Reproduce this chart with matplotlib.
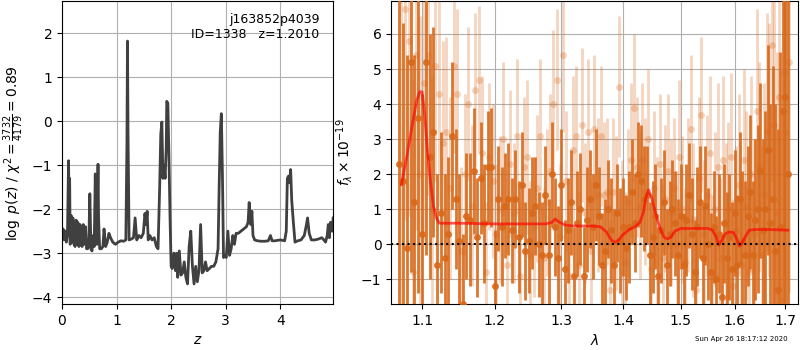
import matplotlib
matplotlib.use("Agg")
import matplotlib.pyplot as plt
import numpy as np
from matplotlib.ticker import FixedLocator, FixedFormatter, NullLocator

# --- redshift probability, log p(z)
z_grid = [0.00, 0.02, 0.04, 0.06, 0.08, 0.10, 0.11, 0.12, 0.13, 0.14,
          0.15, 0.17, 0.19, 0.20, 0.22, 0.24, 0.26, 0.27, 0.29, 0.31,
          0.33, 0.35, 0.37, 0.39, 0.41, 0.43, 0.45, 0.47, 0.49, 0.51,
          0.53, 0.55, 0.57, 0.59, 0.61, 0.62, 0.64, 0.66, 0.67, 0.69,
          0.72, 0.75, 0.77, 0.80, 0.83, 0.86, 0.89, 0.93, 0.98, 1.03,
          1.08, 1.13, 1.17, 1.19, 1.20, 1.21, 1.23, 1.27, 1.31, 1.34,
          1.37, 1.41, 1.45, 1.49, 1.52, 1.54, 1.56, 1.58, 1.61, 1.65,
          1.69, 1.73, 1.76, 1.79, 1.81, 1.83, 1.85, 1.87, 1.89, 1.91,
          1.92, 1.94, 1.96, 1.98, 2.00, 2.02, 2.05, 2.08, 2.10, 2.12,
          2.15, 2.18, 2.21, 2.24, 2.27, 2.30, 2.33, 2.36, 2.39, 2.42,
          2.45, 2.48, 2.51, 2.54, 2.57, 2.60, 2.63, 2.66, 2.70, 2.74,
          2.78, 2.82, 2.86, 2.88, 2.90, 2.92, 2.94, 2.96, 2.98, 3.01,
          3.04, 3.07, 3.10, 3.13, 3.16, 3.19, 3.23, 3.28, 3.33, 3.38,
          3.41, 3.43, 3.46, 3.48, 3.50, 3.53, 3.58, 3.65, 3.72, 3.78,
          3.82, 3.85, 3.90, 4.00, 4.08, 4.11, 4.13, 4.15, 4.17, 4.19,
          4.21, 4.24, 4.27, 4.32, 4.38, 4.44, 4.48, 4.50, 4.53, 4.57,
          4.63, 4.70, 4.76, 4.80, 4.83, 4.86, 4.88, 4.90, 4.92, 4.95,
          4.97]
logpz = [-2.65, -2.45, -2.70, -2.50, -2.75, -2.60, -1.80, -0.90, -2.10, -1.30,
         -2.80, -2.15, -2.75, -2.20, -2.80, -2.85, -2.25, -2.80, -2.30, -2.85,
         -2.35, -2.80, -2.85, -2.35, -2.80, -2.40, -2.90, -2.90, -2.85, -1.65,
         -2.90, -2.95, -2.60, -2.85, -1.20, -2.40, -2.80, -0.98, -2.20, -2.90,
         -2.90, -2.85, -2.45, -2.85, -2.75, -2.55, -2.65, -2.75, -2.80, -2.75,
         -2.72, -2.73, -2.70, -0.50, 1.82, -0.30, -2.70, -2.68, -2.65, -2.20,
         -2.70, -2.60, -2.65, -2.55, -2.10, -2.35, -2.05, -2.70, -2.60, -2.70,
         -2.65, -2.85, -2.90, -1.50, -0.30, -0.02, -1.30, -1.00, -1.30, -0.60,
         0.45, 0.40, -0.80, -2.20, -3.30, -3.35, -3.00, -3.40, -3.00, -3.55,
         -2.95, -3.50, -3.45, -3.20, -3.55, -3.70, -2.85, -2.50, -3.30, -3.70,
         -3.30, -3.65, -3.40, -2.35, -3.45, -3.40, -3.20, -3.40, -3.35, -3.30,
         -3.30, -3.20, -2.90, -1.50, -0.25, 0.17, -1.20, -3.10, -3.05, -3.10,
         -2.50, -3.05, -2.90, -2.60, -2.80, -2.55, -2.55, -2.50, -2.45, -2.40,
         -2.30, -1.85, -2.35, -2.05, -2.60, -2.70, -2.72, -2.73, -2.73, -2.72,
         -2.60, -2.72, -2.72, -2.70, -2.72, -2.50, -1.30, -1.25, -1.40, -1.10,
         -1.80, -2.30, -2.75, -2.72, -2.70, -2.60, -2.35, -2.20, -2.55, -2.70,
         -2.70, -2.68, -2.65, -2.70, -2.75, -2.60, -2.35, -2.65, -2.30, -2.50,
         -2.20]

# --- spectrum, beam 1 (dark), pixel grid starts at 1.070 um, 0.005 um/pix
flux_dark = [2.3, 1.8, -0.1, 5.2, 1.2, 3.6, 0.3, 5.2, 2.5, 3.2,
             -0.6, 0.9, -0.4, 0.3, 3.1, 1.3, 0.1, -1.7, 0.8, 0.7,
             2.1, 0.2, 1.9, 0.6, 2.2, 2.2, -1.2, 1.3, 0.5, 1.1,
             1.3, 0.4, 1.3, 0.2, 1.7, -0.2, 0.1, 0.9, 1.1, 0.0,
             -0.3, 1.4, -0.3, 2.0, 0.5, -0.4, 1.7, -0.7, 0.4, 1.2,
             -0.9, 0.6, 1.0, -0.9, 0.7, 1.3, 0.5, 1.7, 0.8, -0.6,
             -0.2, 1.0, 0.4, -0.6, 0.9, 0.1, 0.5, -0.1, 0.5, 1.5,
             0.6, 2.0, 1.8, 1.3, 1.4, -0.3, 0.2, 0.8, -0.9, 0.4,
             1.2, -0.6, 0.3, 1.0, 0.6, -0.3, 0.8, -0.6, 0.7, 1.4,
             0.3, -0.8, 0.5, 1.2, -0.4, 1.1, 0.0, -0.8, 0.5, -1.0,
             0.3, -1.5, 0.6, -0.4, 0.2, -0.7, 0.9, -0.6, 1.3, 0.1,
             -0.3, 0.8, 1.5, -0.3, 0.7, 1.0, 2.1, 0.4, 1.0, 2.7,
             0.6, 1.3, -0.2, -1.3, 0.5, 3.8, 4.2, 2.0]
err_dark = [5.0, 4.5, 5.5, 6.0, 4.2, 5.0, 4.0, 5.5, 3.5, 3.0,
            2.6, 2.3, 2.4, 2.2, 2.1, 2.0, 1.9, 2.0, 1.8, 1.9,
            1.8, 1.7, 1.6, 1.7, 1.6, 1.7, 1.6, 1.5, 1.7, 1.5,
            1.6, 1.5, 1.4, 1.6, 1.5, 1.4, 1.5, 1.6, 1.4, 1.5,
            1.5, 1.4, 1.6, 1.5, 1.4, 1.5, 1.6, 1.4, 1.5, 1.5,
            1.4, 1.5, 1.6, 1.4, 1.5, 1.4, 1.5, 1.6, 1.4, 1.5,
            1.5, 1.4, 1.5, 1.6, 1.4, 1.5, 1.4, 1.5, 1.6, 1.5,
            1.4, 1.5, 1.6, 1.5, 1.4, 1.5, 1.6, 1.5, 1.4, 1.5,
            1.5, 1.6, 1.5, 1.4, 1.5, 1.6, 1.5, 1.5, 1.6, 1.5,
            1.6, 1.5, 1.7, 1.6, 1.5, 1.7, 1.6, 1.7, 1.6, 1.8,
            1.7, 1.8, 1.7, 1.9, 1.8, 1.9, 1.8, 2.0, 1.9, 2.0,
            2.1, 2.0, 2.2, 2.1, 2.3, 2.4, 2.5, 2.6, 2.8, 3.0,
            3.4, 3.8, 4.2, 4.6, 5.0, 5.5, 6.0, 6.5]

# --- spectrum, beam 2 (light), grid starts at 1.0725 um
flux_light = [1.8, 6.7, 5.8, -0.8, 5.4, 2.0, 4.6, 5.4, 1.0, 5.1,
              4.3, 2.9, 3.2, 1.6, 5.1, 4.3, -0.2, 2.0, 4.0, 1.1,
              4.4, 4.7, 2.6, -0.8, 2.5, 1.8, 0.3, 1.0, 3.0, -0.6,
              2.3, 0.9, 3.1, -0.9, 2.2, 2.5, -0.3, 0.5, 1.6, 3.1,
              -0.4, 1.2, 2.1, 4.0, 4.7, 0.2, 5.4, 1.8, -0.9, 2.7,
              3.1, -0.6, 3.4, 0.9, 3.2, -0.2, 3.3, 1.4, 3.1, 1.4,
              1.5, -1.3, 1.5, 0.9, 4.5, 0.3, -0.5, 1.2, 2.4, 3.9,
              2.2, 1.1, 2.4, 1.5, 3.0, -0.7, 1.6, 0.4, 2.3, -0.4,
              1.3, 2.1, 0.9, 1.6, 0.0, 2.5, 1.0, -0.5, 1.4, 3.3,
              0.7, -1.3, 1.9, 3.7, 0.3, 1.4, 2.6, -0.9, 1.0, 2.2,
              -0.4, 2.4, 0.6, 1.0, 2.5, -1.2, 0.4, 1.7, -0.6, 2.4,
              1.1, -0.8, 2.0, 0.3, 3.8, 2.2, -0.3, 1.4, 3.2, 2.7,
              5.7, 3.4, 0.9, 4.2, -1.6, 4.9, 3.2, 5.2]
err_light = [5.5, 6.0, 5.0, 5.5, 5.0, 4.5, 4.5, 4.0, 3.8, 3.3,
             3.2, 2.9, 2.7, 2.6, 2.5, 2.4, 2.4, 2.3, 2.2, 2.3,
             2.2, 2.1, 2.2, 2.0, 2.1, 2.2, 2.0, 2.1, 2.2, 2.0,
             2.1, 2.0, 2.2, 2.1, 2.0, 2.2, 2.1, 2.0, 2.1, 2.2,
             2.0, 2.1, 2.2, 2.1, 2.0, 2.1, 2.2, 2.0, 2.1, 2.1,
             2.0, 2.1, 2.2, 2.0, 2.1, 2.0, 2.1, 2.2, 2.0, 2.1,
             2.1, 2.0, 2.1, 2.2, 2.0, 2.1, 2.0, 2.1, 2.2, 2.1,
             2.0, 2.1, 2.2, 2.1, 2.0, 2.1, 2.2, 2.1, 2.0, 2.1,
             2.1, 2.2, 2.1, 2.0, 2.1, 2.2, 2.1, 2.1, 2.2, 2.1,
             2.2, 2.1, 2.3, 2.2, 2.1, 2.3, 2.2, 2.3, 2.2, 2.4,
             2.3, 2.4, 2.3, 2.5, 2.4, 2.5, 2.4, 2.6, 2.5, 2.6,
             2.7, 2.6, 2.8, 2.7, 2.9, 3.0, 3.1, 3.2, 3.4, 3.6,
             3.9, 4.2, 4.6, 5.0, 5.4, 5.8, 6.2, 6.6]

# --- best-fit model
lam_model = [1.073, 1.080, 1.087, 1.093, 1.097, 1.100, 1.103, 1.107, 1.111, 1.115,
             1.119, 1.123, 1.128, 1.15, 1.20, 1.25, 1.275, 1.285, 1.290, 1.295,
             1.305, 1.32, 1.35, 1.362, 1.372, 1.380, 1.386, 1.392, 1.40, 1.41,
             1.42, 1.428, 1.434, 1.438, 1.443, 1.448, 1.455, 1.462, 1.470, 1.476,
             1.482, 1.490, 1.500, 1.52, 1.55, 1.558, 1.565, 1.570, 1.575, 1.582,
             1.590, 1.598, 1.604, 1.609, 1.613, 1.620, 1.628, 1.64, 1.67, 1.705]
flux_model = [1.7, 2.5, 3.4, 4.1, 4.35, 4.35, 3.8, 2.7, 1.8, 1.1,
              0.75, 0.6, 0.6, 0.6, 0.58, 0.58, 0.58, 0.62, 0.72, 0.65,
              0.55, 0.52, 0.52, 0.5, 0.35, 0.12, 0.05, 0.12, 0.28, 0.42,
              0.5, 0.62, 0.9, 1.3, 1.55, 1.35, 0.9, 0.5, 0.2, 0.15,
              0.2, 0.38, 0.45, 0.45, 0.45, 0.4, 0.2, -0.02, 0.1, 0.3,
              0.35, 0.33, 0.15, -0.05, 0.0, 0.2, 0.4, 0.42, 0.42, 0.4]

root = "j163852p4039"
obj_id = 1338
z_best = 1.2010
timestamp = "Sun Apr 26 18:17:12 2020"

wave_dark = 1.070 + 0.005 * np.arange(len(flux_dark))
wave_light = 1.0725 + 0.005 * np.arange(len(flux_light))

orange = "#d8681a"

fig = plt.figure(figsize=(8, 3.5), dpi=100)
ax1 = fig.add_axes([0.0775, 0.131, 0.339, 0.866])
ax2 = fig.add_axes([0.489, 0.131, 0.509, 0.866])

# left: p(z)
ax1.plot(z_grid, logpz, color="0.25", lw=2)
ax1.set_xlim(0, 4.97)
ax1.set_ylim(-4.16, 2.73)
ax1.set_xticks([0, 1, 2, 3, 4])
ax1.set_yticks([-4, -3, -2, -1, 0, 1, 2])
ax1.grid()
ax1.set_xlabel(r"$z$")
ax1.set_ylabel(r"$\log\ p(z)$ / $\chi^2=\frac{3732}{4179}=0.89$")
ax1.text(0.95, 0.96, "%s\nID=%d   z=%.4f" % (root, obj_id, z_best),
         ha="right", va="top", fontsize=9, transform=ax1.transAxes)

# right: spectrum
ax2.errorbar(wave_light, flux_light, yerr=err_light, color=orange, alpha=0.28,
             marker="o", ms=5, mew=0, linestyle="none", elinewidth=2.0, zorder=2)
ax2.errorbar(wave_dark, flux_dark, yerr=err_dark, color=orange, alpha=0.9,
             marker="o", ms=5, mew=0, linestyle="none", elinewidth=2.0, zorder=3)
ax2.plot(lam_model, flux_model, color="red", alpha=0.65, lw=2, zorder=4)
ax2.axhline(0, color="k", linestyle=":", lw=1.5, zorder=5)

ax2.set_xscale("log")
ax2.set_xlim(1.06, 1.727)
ax2.set_ylim(-1.71, 6.94)
xt = [1.1, 1.2, 1.3, 1.4, 1.5, 1.6, 1.7]
ax2.xaxis.set_major_locator(FixedLocator(xt))
ax2.xaxis.set_major_formatter(FixedFormatter(["%.1f" % v for v in xt]))
ax2.xaxis.set_minor_locator(NullLocator())
ax2.set_yticks([-1, 0, 1, 2, 3, 4, 5, 6])
ax2.grid()
ax2.set_xlabel(r"$\lambda$")
ax2.set_ylabel(r"$f_\lambda\times10^{-19}$")

fig.text(0.984, 0.031, timestamp, ha="right", va="center", fontsize=5)

fig.savefig("out.png", dpi=100)
